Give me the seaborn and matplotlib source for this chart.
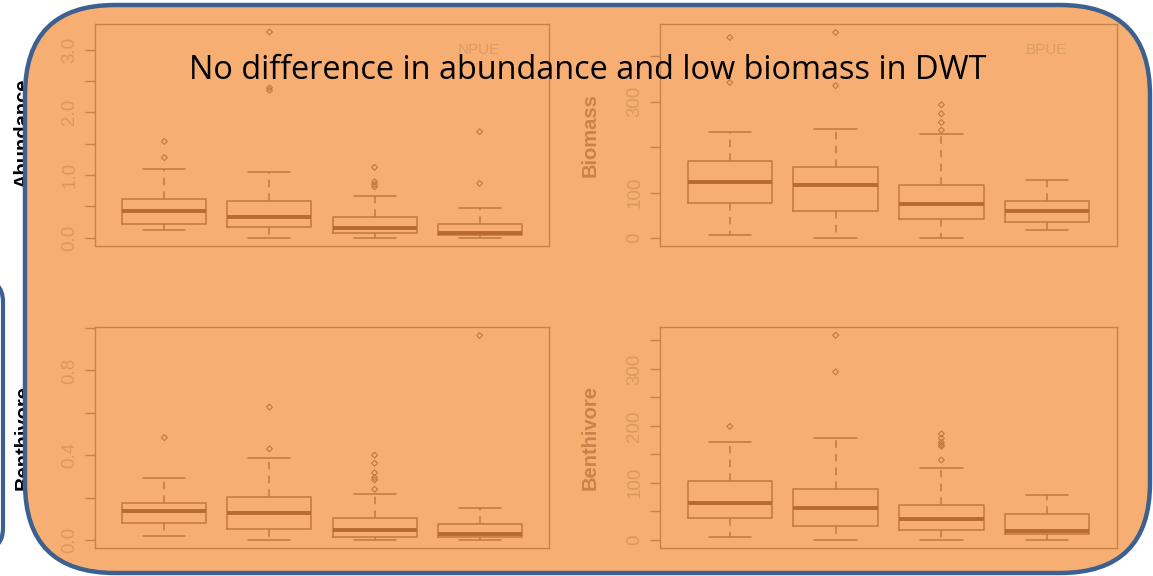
import numpy as np
import pandas as pd
import matplotlib
matplotlib.use("Agg")
import matplotlib.pyplot as plt
from matplotlib.patches import FancyBboxPatch
import seaborn as sns

# ---------------- data ----------------
groups = ["G1", "G2", "G3", "G4"]

# Abundance (NPUE)
abund_low = [0.128, 0.0, 0.0, 0.0]
abund_q1 = [0.225, 0.171, 0.070, 0.043]
abund_med = [0.428, 0.330, 0.150, 0.080]
abund_q3 = [0.610, 0.583, 0.326, 0.225]
abund_high = [1.096, 1.043, 0.663, 0.481]
abund_out_grp = ["G1", "G1", "G2", "G2", "G2", "G3", "G3", "G3", "G3", "G4", "G4"]
abund_out_val = [1.278, 1.535, 2.35, 2.39, 3.283, 0.813, 0.85, 0.893, 1.123, 0.866, 1.69]

# Biomass (BPUE)
biom_low = [7.4, 0.0, 0.0, 17.6]
biom_q1 = [78.0, 60.0, 42.6, 35.3]
biom_med = [123.5, 117.6, 75.0, 60.3]
biom_q3 = [170.0, 156.0, 117.0, 81.0]
biom_high = [233.0, 240.0, 229.0, 127.0]
biom_out_grp = ["G1", "G1", "G2", "G2", "G3", "G3", "G3", "G3"]
biom_out_val = [342.0, 441.0, 335.0, 452.0, 237.0, 254.0, 273.0, 293.0]

# Benthivore abundance
bena_low = [0.020, 0.0, 0.0, 0.0]
bena_q1 = [0.082, 0.052, 0.014, 0.014]
bena_med = [0.135, 0.128, 0.046, 0.027]
bena_q3 = [0.173, 0.203, 0.104, 0.074]
bena_high = [0.294, 0.386, 0.219, 0.150]
bena_out_grp = ["G1", "G2", "G2", "G3", "G3", "G3", "G3", "G3", "G3", "G4"]
bena_out_val = [0.483, 0.430, 0.627, 0.239, 0.283, 0.294, 0.317, 0.362, 0.400, 0.965]

# Benthivore biomass
benb_low = [5.3, 0.0, 0.0, 0.0]
benb_q1 = [38.6, 25.0, 17.0, 10.5]
benb_med = [64.3, 56.0, 36.0, 15.2]
benb_q3 = [103.5, 89.5, 61.4, 44.4]
benb_high = [171.0, 179.5, 126.0, 78.4]
benb_out_grp = ["G1", "G2", "G2", "G3", "G3", "G3", "G3", "G3", "G3"]
benb_out_val = [199.0, 294.7, 359.0, 140.0, 164.0, 167.0, 171.0, 178.0, 186.0]

title = "No difference in abundance and low biomass in DWT"

# ---------------- style ----------------
W, H = 1153, 576
BG = "#f7ae72"
BLUE = "#3c6090"
LINE = "#c07a3e"
MED = "#b86b30"
FRAME = "#c6824a"
TICKLBL = "#d9995f"
YLAB = "#c8824a"
NOTE = "#dc9c66"

sns.set_theme(style="white")
plt.rcParams["font.family"] = ["Liberation Sans", "DejaVu Sans"]
plt.rcParams["axes.facecolor"] = "none"

fig = plt.figure(figsize=(W / 100, H / 100), dpi=100, facecolor="white")


def px_axes(x0, y0, x1, y1):
    return fig.add_axes([x0 / W, 1 - y1 / H, (x1 - x0) / W, (y1 - y0) / H])


# background slide shape at left (behind)
fig.add_artist(FancyBboxPatch((-60, H - 550), 63, 270,
                              boxstyle="round,pad=0,rounding_size=22",
                              transform=None, facecolor="white", edgecolor=BLUE,
                              linewidth=3.0, zorder=-3))
# black labels of the underlying chart, partly hidden by the orange box
fig.text(23 / W, 1 - 133 / H, "Abundance", rotation=90, ha="center", va="center",
         fontsize=14.5, fontweight="bold", color="black", zorder=-2)
fig.text(23 / W, 1 - 437 / H, "Benthivore", rotation=90, ha="center", va="center",
         fontsize=14.5, fontweight="bold", color="black", zorder=-2)

# orange rounded box: fill below the axes, border above
box_xy = (25, H - 573)
box_w, box_h = 1125, 568
fig.add_artist(FancyBboxPatch(box_xy, box_w, box_h,
                              boxstyle="round,pad=0,rounding_size=90",
                              transform=None, facecolor=BG, edgecolor="none",
                              zorder=-1))
fig.add_artist(FancyBboxPatch(box_xy, box_w, box_h,
                              boxstyle="round,pad=0,rounding_size=90",
                              transform=None, facecolor="none", edgecolor=BLUE,
                              linewidth=3.2, zorder=5))

panels = [
    dict(rect=(95, 24, 549, 246), low=abund_low, q1=abund_q1, med=abund_med, q3=abund_q3,
         high=abund_high, og=abund_out_grp, ov=abund_out_val, ylim=(-0.133, 3.41),
         ticks=[0, 0.5, 1.0, 1.5, 2.0, 2.5, 3.0],
         labels=["0.0", "", "1.0", "", "2.0", "", "3.0"], note="NPUE", ylabel=None),
    dict(rect=(660, 24, 1117, 246), low=biom_low, q1=biom_q1, med=biom_med, q3=biom_q3,
         high=biom_high, og=biom_out_grp, ov=biom_out_val, ylim=(-17.6, 470.6),
         ticks=[0, 100, 200, 300, 400],
         labels=["0", "100", "", "300", ""], note="BPUE", ylabel="Biomass"),
    dict(rect=(95, 327, 549, 548), low=bena_low, q1=bena_q1, med=bena_med, q3=bena_q3,
         high=bena_high, og=bena_out_grp, ov=bena_out_val, ylim=(-0.038, 1.005),
         ticks=[0, 0.2, 0.4, 0.6, 0.8, 1.0],
         labels=["0.0", "", "0.4", "", "0.8", ""], note=None, ylabel=None),
    dict(rect=(660, 327, 1117, 548), low=benb_low, q1=benb_q1, med=benb_med, q3=benb_q3,
         high=benb_high, og=benb_out_grp, ov=benb_out_val, ylim=(-14.4, 373.4),
         ticks=[0, 50, 100, 150, 200, 250, 300, 350],
         labels=["0", "", "100", "", "200", "", "300", ""], note=None, ylabel="Benthivore"),
]

for p in panels:
    ax = px_axes(*p["rect"])
    rows = []
    for g, a, b, c, d, e in zip(groups, p["low"], p["q1"], p["med"], p["q3"], p["high"]):
        for v in (a, b, c, d, e):
            rows.append((g, v))
    df = pd.DataFrame(rows, columns=["group", "value"])
    sns.boxplot(data=df, x="group", y="value", order=groups, whis=(0, 100),
                width=0.8, fill=False, color=LINE, linewidth=1.1, showfliers=False,
                medianprops=dict(linewidth=2.8, color=MED),
                whiskerprops=dict(linestyle=(0, (5, 4))),
                ax=ax)
    odf = pd.DataFrame({"group": p["og"], "value": p["ov"]})
    sns.stripplot(data=odf, x="group", y="value", order=groups, jitter=False,
                  marker="D", size=3.0, facecolor="none", edgecolor=LINE,
                  linewidth=0.8, color=LINE, ax=ax)
    ax.set_xlim(-0.66, 3.66)
    ax.set_ylim(*p["ylim"])
    ax.set_xticks([])
    ax.set_xlabel("")
    ax.set_ylabel("")
    ax.set_yticks(p["ticks"])
    ax.set_yticklabels(p["labels"])
    ax.tick_params(axis="y", left=True, direction="out", length=7, width=1.0,
                   color=FRAME, labelcolor=TICKLBL, labelsize=13.5, pad=5)
    for lab in ax.get_yticklabels():
        lab.set_rotation(90)
        lab.set_va("center")
    for s in ax.spines.values():
        s.set_visible(True)
        s.set_color(FRAME)
        s.set_linewidth(1.0)
    if p["note"]:
        ax.text(0.845, 0.885, p["note"], transform=ax.transAxes, ha="center",
                va="center", fontsize=11, color=NOTE)
    if p["ylabel"]:
        cy = (p["rect"][1] + p["rect"][3]) / 2
        fig.text(590 / W, 1 - cy / H, p["ylabel"], rotation=90, ha="center",
                 va="center", fontsize=14.5, fontweight="bold", color=YLAB)

fig.text(588 / W, 1 - 79 / H, title, ha="center", va="baseline", fontsize=23.4,
         family=["Open Sans", "DejaVu Sans"], color="black", zorder=10)

fig.savefig("out.png", dpi=100, facecolor="white")
